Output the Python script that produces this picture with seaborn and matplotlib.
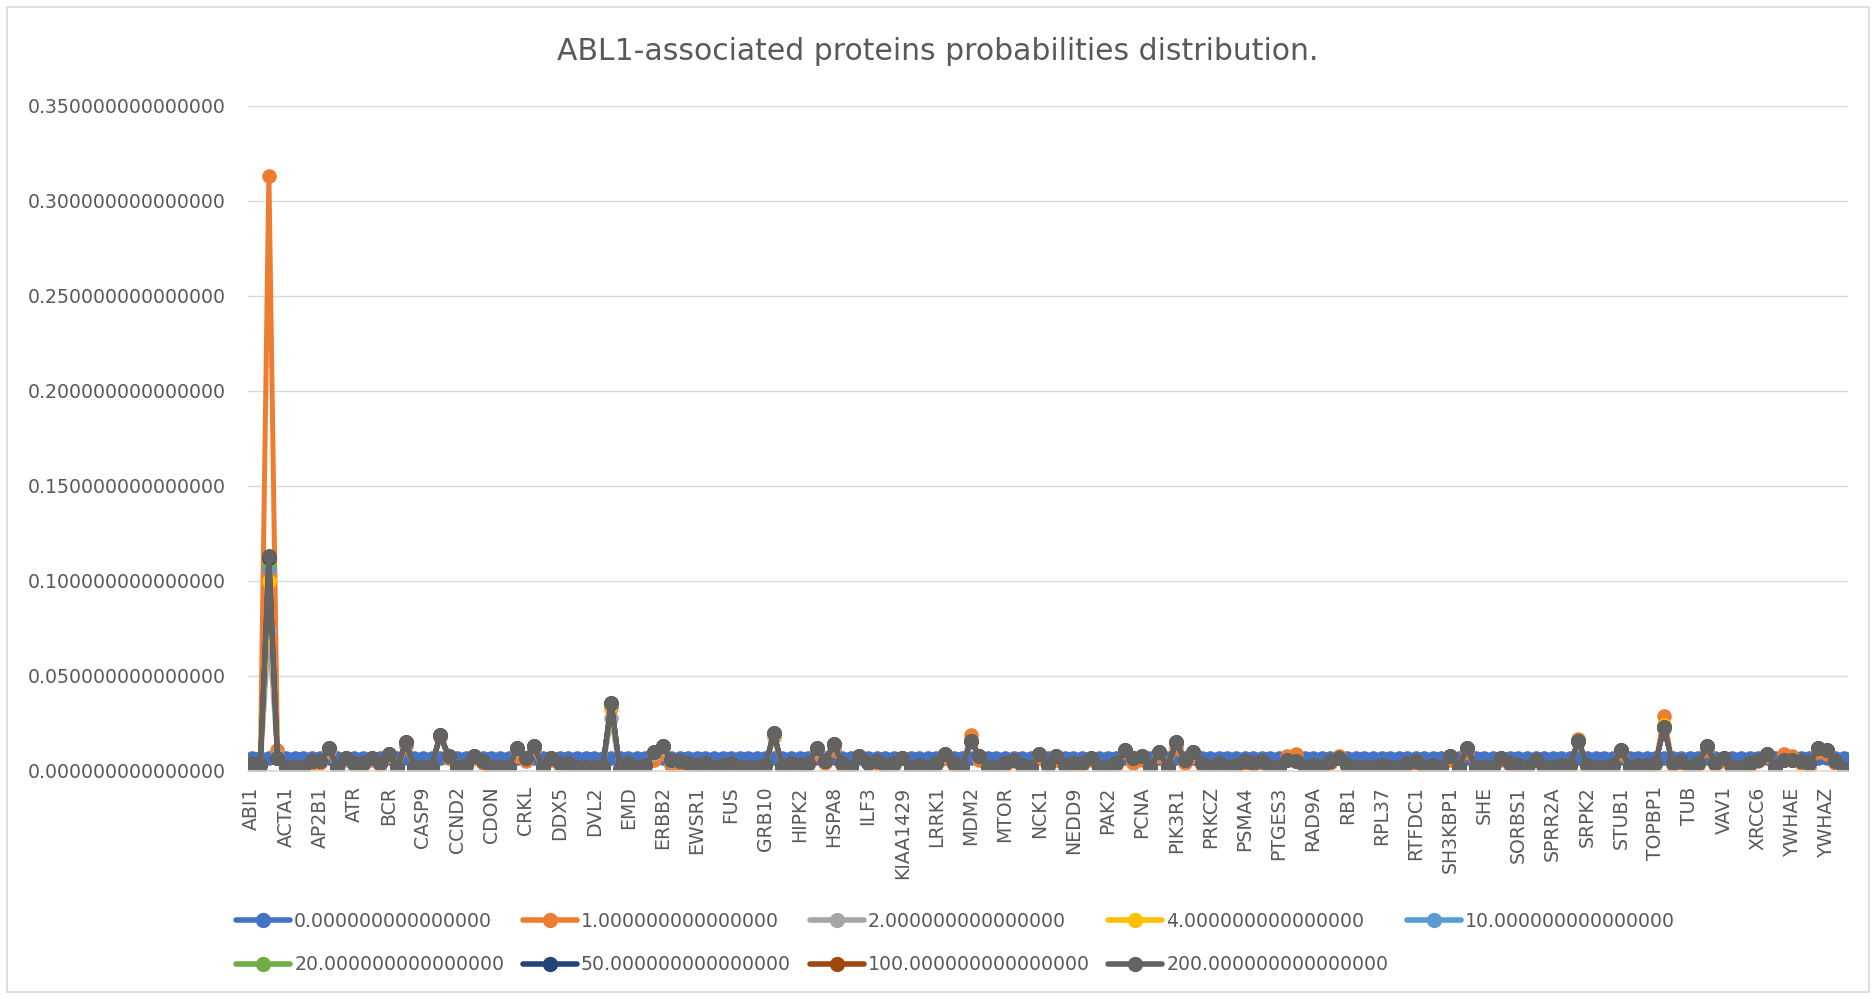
import pandas as pd
import seaborn as sns
import matplotlib.pyplot as plt
from matplotlib.lines import Line2D
from matplotlib.patches import Rectangle

# categorias (proteinas), solo se rotula una de cada cuatro
proteins = [
    'ABI1', 'ABI2', 'ABL1', 'ABL2', 'ACTA1', 'ACTB', 'ADAM15', 'AKT1',
    'AP2B1', 'APP', 'ATF2', 'ATM', 'ATR', 'AXL', 'BCAR1', 'BCL2L1',
    'BCR', 'BRCA1', 'CABLES1', 'CASP3', 'CASP9', 'CAV1', 'CBL', 'CCNB1',
    'CCND2', 'CD19', 'CDK5', 'CDKN1B', 'CDON', 'CHEK1', 'CREB1', 'CRK',
    'CRKL', 'CTNNB1', 'DAB1', 'DDB1', 'DDX5', 'DNMT1', 'DOK1', 'DVL1',
    'DVL2', 'E2F1', 'EGFR', 'ELMO1', 'EMD', 'ENAH', 'EP300', 'EPHB2',
    'ERBB2', 'ERBB3', 'ESR1', 'ETV6', 'EWSR1', 'EZR', 'FAS', 'FOXO3',
    'FUS', 'FYN', 'GAB1', 'GAB2', 'GRB10', 'GRB2', 'GSK3B', 'HCK',
    'HIPK2', 'HNRNPK', 'HSP90AA1', 'HSP90AB1', 'HSPA8', 'IGF1R', 'IKBKB', 'IL2RB',
    'ILF3', 'INPP5D', 'IRS1', 'JAK2', 'KIAA1429', 'KIT', 'LCK', 'LMO2',
    'LRRK1', 'MAP4K1', 'MAPK8', 'MCM7', 'MDM2', 'MDM4', 'MET', 'MST1R',
    'MTOR', 'MYC', 'MYOD1', 'NBN', 'NCK1', 'NCK2', 'NCKAP1', 'NEDD4',
    'NEDD9', 'NOTCH1', 'NTRK1', 'PAG1', 'PAK2', 'PARP1', 'PAXIP1', 'PBX1',
    'PCNA', 'PDGFRB', 'PIK3CA', 'PIK3CD', 'PIK3R1', 'PLCG1', 'PRDX1', 'PRKCD',
    'PRKCZ', 'PRKDC', 'PSMA1', 'PSMA3', 'PSMA4', 'PSMA7', 'PSTPIP1', 'PTEN',
    'PTGES3', 'PTK2', 'PTPN1', 'PXN', 'RAD9A', 'RAF1', 'RAPGEF1', 'RASA1',
    'RB1', 'RIN1', 'ROCK1', 'RPA1', 'RPL37', 'RPS6', 'RRM2', 'RSU1',
    'RTFDC1', 'RUNX1', 'SH2B1', 'SH2D1A', 'SH3KBP1', 'SH3RF1', 'SHB', 'SHC1',
    'SHE', 'SIRT1', 'SMAD3', 'SOCS1', 'SORBS1', 'SORBS2', 'SOS1', 'SPI1',
    'SPRR2A', 'SRC', 'SRF', 'SRPK1', 'SRPK2', 'STAT1', 'STAT3', 'STAT5A',
    'STUB1', 'SYK', 'TERT', 'TLN1', 'TOPBP1', 'TP53', 'TP73', 'TRIP6',
    'TUB', 'TUBA1A', 'UBC', 'UTRN', 'VAV1', 'VAV2', 'WASF2', 'WASL',
    'XRCC6', 'YAP1', 'YES1', 'YWHAB', 'YWHAE', 'YWHAG', 'YWHAH', 'YWHAQ',
    'YWHAZ', 'ZAP70', 'ZYX',
]

# parametro de cada serie (leyenda)
temps = [0, 1, 2, 4, 10, 20, 50, 100, 200]

p0 = [
    0.007, 0.007, 0.007, 0.007, 0.007, 0.007, 0.007, 0.007, 0.007, 0.007, 0.007, 0.007, 0.007, 0.007, 0.007, 0.007, 0.007,
    0.007, 0.007, 0.007, 0.007, 0.007, 0.007, 0.007, 0.007, 0.007, 0.007, 0.007, 0.007, 0.007, 0.007, 0.007, 0.007, 0.007,
    0.007, 0.007, 0.007, 0.007, 0.007, 0.007, 0.007, 0.007, 0.007, 0.007, 0.007, 0.007, 0.007, 0.007, 0.007, 0.007, 0.007,
    0.007, 0.007, 0.007, 0.007, 0.007, 0.007, 0.007, 0.007, 0.007, 0.007, 0.007, 0.007, 0.007, 0.007, 0.007, 0.007, 0.007,
    0.007, 0.007, 0.007, 0.007, 0.007, 0.007, 0.007, 0.007, 0.007, 0.007, 0.007, 0.007, 0.007, 0.007, 0.007, 0.007, 0.007,
    0.007, 0.007, 0.007, 0.007, 0.007, 0.007, 0.007, 0.007, 0.007, 0.007, 0.007, 0.007, 0.007, 0.007, 0.007, 0.007, 0.007,
    0.007, 0.007, 0.007, 0.007, 0.007, 0.007, 0.007, 0.007, 0.007, 0.007, 0.007, 0.007, 0.007, 0.007, 0.007, 0.007, 0.007,
    0.007, 0.007, 0.007, 0.007, 0.007, 0.007, 0.007, 0.007, 0.007, 0.007, 0.007, 0.007, 0.007, 0.007, 0.007, 0.007, 0.007,
    0.007, 0.007, 0.007, 0.007, 0.007, 0.007, 0.007, 0.007, 0.007, 0.007, 0.007, 0.007, 0.007, 0.007, 0.007, 0.007, 0.007,
    0.007, 0.007, 0.007, 0.007, 0.007, 0.007, 0.007, 0.007, 0.007, 0.007, 0.007, 0.007, 0.007, 0.007, 0.007, 0.007, 0.007,
    0.007, 0.007, 0.007, 0.007, 0.007, 0.007, 0.007, 0.007, 0.007, 0.007, 0.007, 0.007, 0.007, 0.007, 0.007, 0.007, 0.007,
]

p1 = [
    0.003, 0.002, 0.313, 0.011, 0.001, 0.001, 0.001, 0.004, 0.004, 0.010,
    0.001, 0.006, 0.003, 0.003, 0.006, 0.003, 0.008, 0.001, 0.013, 0.001,
    0.001, 0.001, 0.018, 0.007, 0.001, 0.002, 0.007, 0.004, 0.001, 0.001,
    0.001, 0.008, 0.005, 0.011, 0.001, 0.006, 0.003, 0.003, 0.001, 0.001,
    0.001, 0.001, 0.033, 0.0005, 0.003, 0.001, 0.002, 0.006, 0.009, 0.003,
    0.003, 0.003, 0.002, 0.003, 0.001, 0.002, 0.003, 0.001, 0.001, 0.001,
    0.002, 0.019, 0.001, 0.003, 0.002, 0.003, 0.009, 0.004, 0.011, 0.003,
    0.001, 0.008, 0.004, 0.004, 0.002, 0.003, 0.007, 0.001, 0.002, 0.001,
    0.003, 0.007, 0.003, 0.001, 0.019, 0.006, 0.001, 0.001, 0.003, 0.005,
    0.002, 0.001, 0.007, 0.002, 0.006, 0.002, 0.003, 0.003, 0.006, 0.001,
    0.001, 0.003, 0.010, 0.004, 0.006, 0.001, 0.008, 0.001, 0.012, 0.004,
    0.008, 0.003, 0.001, 0.003, 0.001, 0.002, 0.004, 0.003, 0.004, 0.001,
    0.001, 0.008, 0.009, 0.001, 0.002, 0.001, 0.004, 0.008, 0.002, 0.001,
    0.001, 0.001, 0.002, 0.001, 0.001, 0.003, 0.004, 0.001, 0.002, 0.001,
    0.006, 0.001, 0.010, 0.001, 0.001, 0.001, 0.006, 0.003, 0.002, 0.001,
    0.005, 0.001, 0.001, 0.002, 0.002, 0.017, 0.002, 0.001, 0.001, 0.002,
    0.009, 0.001, 0.002, 0.002, 0.003, 0.029, 0.003, 0.004, 0.001, 0.003,
    0.011, 0.003, 0.005, 0.001, 0.001, 0.003, 0.005, 0.008, 0.001, 0.009,
    0.008, 0.004, 0.002, 0.010, 0.009, 0.004, 0.001,
]

p2 = [
    0.004, 0.003, 0.074, 0.008, 0.002, 0.002, 0.002, 0.005, 0.005, 0.011,
    0.002, 0.006, 0.004, 0.004, 0.006, 0.004, 0.009, 0.002, 0.014, 0.002,
    0.002, 0.002, 0.018, 0.008, 0.002, 0.003, 0.008, 0.005, 0.002, 0.002,
    0.002, 0.011, 0.007, 0.012, 0.002, 0.007, 0.004, 0.004, 0.002, 0.002,
    0.002, 0.002, 0.028, 0.001, 0.004, 0.002, 0.003, 0.009, 0.012, 0.005,
    0.005, 0.004, 0.003, 0.004, 0.002, 0.003, 0.004, 0.002, 0.002, 0.002,
    0.003, 0.018, 0.002, 0.004, 0.003, 0.004, 0.011, 0.005, 0.013, 0.004,
    0.002, 0.008, 0.004, 0.005, 0.003, 0.004, 0.007, 0.002, 0.003, 0.002,
    0.004, 0.009, 0.004, 0.002, 0.015, 0.008, 0.002, 0.002, 0.004, 0.006,
    0.003, 0.002, 0.009, 0.003, 0.008, 0.003, 0.004, 0.004, 0.007, 0.002,
    0.002, 0.004, 0.011, 0.007, 0.008, 0.002, 0.010, 0.002, 0.014, 0.006,
    0.010, 0.004, 0.002, 0.004, 0.002, 0.003, 0.005, 0.004, 0.005, 0.002,
    0.002, 0.006, 0.005, 0.002, 0.003, 0.002, 0.005, 0.007, 0.003, 0.002,
    0.002, 0.002, 0.003, 0.002, 0.002, 0.004, 0.005, 0.002, 0.003, 0.002,
    0.008, 0.002, 0.012, 0.002, 0.002, 0.002, 0.007, 0.004, 0.003, 0.002,
    0.006, 0.002, 0.002, 0.003, 0.003, 0.015, 0.003, 0.002, 0.002, 0.003,
    0.011, 0.002, 0.003, 0.003, 0.004, 0.022, 0.004, 0.005, 0.002, 0.004,
    0.013, 0.004, 0.007, 0.002, 0.002, 0.004, 0.006, 0.009, 0.002, 0.006,
    0.006, 0.005, 0.004, 0.012, 0.011, 0.005, 0.001,
]

p4 = [
    0.004, 0.003, 0.100, 0.007, 0.002, 0.002, 0.002, 0.005, 0.005, 0.012,
    0.002, 0.0066, 0.004, 0.004, 0.0066, 0.004, 0.009, 0.002, 0.015, 0.002,
    0.002, 0.002, 0.019, 0.008, 0.002, 0.003, 0.008, 0.005, 0.002, 0.002,
    0.002, 0.012, 0.007, 0.013, 0.002, 0.007, 0.004, 0.004, 0.002, 0.002,
    0.002, 0.002, 0.034, 0.001, 0.004, 0.002, 0.003, 0.010, 0.013, 0.006,
    0.005, 0.004, 0.003, 0.004, 0.002, 0.003, 0.004, 0.002, 0.002, 0.002,
    0.003, 0.019, 0.002, 0.004, 0.003, 0.004, 0.012, 0.005, 0.014, 0.004,
    0.002, 0.008, 0.004, 0.005, 0.003, 0.004, 0.007, 0.002, 0.003, 0.002,
    0.004, 0.009, 0.004, 0.002, 0.016, 0.008, 0.002, 0.002, 0.004, 0.006,
    0.003, 0.002, 0.009, 0.003, 0.008, 0.003, 0.004, 0.004, 0.007, 0.002,
    0.002, 0.004, 0.011, 0.007, 0.008, 0.002, 0.010, 0.002, 0.015, 0.006,
    0.010, 0.004, 0.002, 0.004, 0.002, 0.003, 0.005, 0.004, 0.005, 0.002,
    0.002, 0.006, 0.005, 0.002, 0.003, 0.002, 0.005, 0.007, 0.003, 0.002,
    0.002, 0.002, 0.003, 0.002, 0.002, 0.004, 0.005, 0.002, 0.003, 0.002,
    0.008, 0.002, 0.012, 0.002, 0.002, 0.002, 0.007, 0.004, 0.003, 0.002,
    0.006, 0.002, 0.002, 0.003, 0.003, 0.016, 0.003, 0.002, 0.002, 0.003,
    0.011, 0.002, 0.003, 0.003, 0.004, 0.024, 0.004, 0.005, 0.002, 0.004,
    0.013, 0.004, 0.007, 0.002, 0.002, 0.004, 0.006, 0.009, 0.002, 0.006,
    0.006, 0.005, 0.004, 0.012, 0.011, 0.005, 0.001,
]

p10 = [
    0.004, 0.003, 0.107, 0.0066, 0.002, 0.002, 0.002, 0.005, 0.005, 0.012,
    0.002, 0.0066, 0.004, 0.004, 0.0066, 0.004, 0.009, 0.002, 0.015, 0.002,
    0.002, 0.002, 0.019, 0.008, 0.002, 0.003, 0.008, 0.005, 0.002, 0.002,
    0.002, 0.012, 0.007, 0.013, 0.002, 0.007, 0.004, 0.004, 0.002, 0.002,
    0.002, 0.002, 0.035, 0.001, 0.004, 0.002, 0.003, 0.010, 0.013, 0.006,
    0.005, 0.004, 0.003, 0.004, 0.002, 0.003, 0.004, 0.002, 0.002, 0.002,
    0.003, 0.020, 0.002, 0.004, 0.003, 0.004, 0.012, 0.005, 0.014, 0.004,
    0.002, 0.008, 0.004, 0.005, 0.003, 0.004, 0.007, 0.002, 0.003, 0.002,
    0.004, 0.009, 0.004, 0.002, 0.016, 0.008, 0.002, 0.002, 0.004, 0.006,
    0.003, 0.002, 0.009, 0.003, 0.008, 0.003, 0.004, 0.004, 0.007, 0.002,
    0.002, 0.004, 0.011, 0.007, 0.008, 0.002, 0.010, 0.002, 0.015, 0.006,
    0.010, 0.004, 0.002, 0.004, 0.002, 0.003, 0.005, 0.004, 0.005, 0.002,
    0.002, 0.006, 0.005, 0.002, 0.003, 0.002, 0.005, 0.007, 0.003, 0.002,
    0.002, 0.002, 0.003, 0.002, 0.002, 0.004, 0.005, 0.002, 0.003, 0.002,
    0.008, 0.002, 0.012, 0.002, 0.002, 0.002, 0.007, 0.004, 0.003, 0.002,
    0.006, 0.002, 0.002, 0.003, 0.003, 0.016, 0.003, 0.002, 0.002, 0.003,
    0.011, 0.002, 0.003, 0.003, 0.004, 0.023, 0.004, 0.005, 0.002, 0.004,
    0.013, 0.004, 0.007, 0.002, 0.002, 0.004, 0.006, 0.009, 0.002, 0.006,
    0.006, 0.005, 0.004, 0.012, 0.011, 0.005, 0.001,
]

p20 = [
    0.004, 0.003, 0.110, 0.0066, 0.002, 0.002, 0.002, 0.005, 0.005, 0.012,
    0.002, 0.0066, 0.004, 0.004, 0.0066, 0.004, 0.009, 0.002, 0.015, 0.002,
    0.002, 0.002, 0.019, 0.008, 0.002, 0.003, 0.008, 0.005, 0.002, 0.002,
    0.002, 0.012, 0.007, 0.013, 0.002, 0.007, 0.004, 0.004, 0.002, 0.002,
    0.002, 0.002, 0.036, 0.001, 0.004, 0.002, 0.003, 0.010, 0.013, 0.006,
    0.005, 0.004, 0.003, 0.004, 0.002, 0.003, 0.004, 0.002, 0.002, 0.002,
    0.003, 0.020, 0.002, 0.004, 0.003, 0.004, 0.012, 0.005, 0.014, 0.004,
    0.002, 0.008, 0.004, 0.005, 0.003, 0.004, 0.007, 0.002, 0.003, 0.002,
    0.004, 0.009, 0.004, 0.002, 0.016, 0.008, 0.002, 0.002, 0.004, 0.006,
    0.003, 0.002, 0.009, 0.003, 0.008, 0.003, 0.004, 0.004, 0.007, 0.002,
    0.002, 0.004, 0.011, 0.007, 0.008, 0.002, 0.010, 0.002, 0.015, 0.006,
    0.010, 0.004, 0.002, 0.004, 0.002, 0.003, 0.005, 0.004, 0.005, 0.002,
    0.002, 0.006, 0.005, 0.002, 0.003, 0.002, 0.005, 0.007, 0.003, 0.002,
    0.002, 0.002, 0.003, 0.002, 0.002, 0.004, 0.005, 0.002, 0.003, 0.002,
    0.008, 0.002, 0.012, 0.002, 0.002, 0.002, 0.007, 0.004, 0.003, 0.002,
    0.006, 0.002, 0.002, 0.003, 0.003, 0.016, 0.003, 0.002, 0.002, 0.003,
    0.011, 0.002, 0.003, 0.003, 0.004, 0.023, 0.004, 0.005, 0.002, 0.004,
    0.013, 0.004, 0.007, 0.002, 0.002, 0.004, 0.006, 0.009, 0.002, 0.006,
    0.006, 0.005, 0.004, 0.012, 0.011, 0.005, 0.001,
]

p50 = [
    0.004, 0.003, 0.112, 0.0066, 0.002, 0.002, 0.002, 0.005, 0.005, 0.012,
    0.002, 0.0066, 0.004, 0.004, 0.0066, 0.004, 0.009, 0.002, 0.015, 0.002,
    0.002, 0.002, 0.019, 0.008, 0.002, 0.003, 0.008, 0.005, 0.002, 0.002,
    0.002, 0.012, 0.007, 0.013, 0.002, 0.007, 0.004, 0.004, 0.002, 0.002,
    0.002, 0.002, 0.036, 0.001, 0.004, 0.002, 0.003, 0.010, 0.013, 0.006,
    0.005, 0.004, 0.003, 0.004, 0.002, 0.003, 0.004, 0.002, 0.002, 0.002,
    0.003, 0.020, 0.002, 0.004, 0.003, 0.004, 0.012, 0.005, 0.014, 0.004,
    0.002, 0.008, 0.004, 0.005, 0.003, 0.004, 0.007, 0.002, 0.003, 0.002,
    0.004, 0.009, 0.004, 0.002, 0.016, 0.008, 0.002, 0.002, 0.004, 0.006,
    0.003, 0.002, 0.009, 0.003, 0.008, 0.003, 0.004, 0.004, 0.007, 0.002,
    0.002, 0.004, 0.011, 0.007, 0.008, 0.002, 0.010, 0.002, 0.015, 0.006,
    0.010, 0.004, 0.002, 0.004, 0.002, 0.003, 0.005, 0.004, 0.005, 0.002,
    0.002, 0.006, 0.005, 0.002, 0.003, 0.002, 0.005, 0.007, 0.003, 0.002,
    0.002, 0.002, 0.003, 0.002, 0.002, 0.004, 0.005, 0.002, 0.003, 0.002,
    0.008, 0.002, 0.012, 0.002, 0.002, 0.002, 0.007, 0.004, 0.003, 0.002,
    0.006, 0.002, 0.002, 0.003, 0.003, 0.016, 0.003, 0.002, 0.002, 0.003,
    0.011, 0.002, 0.003, 0.003, 0.004, 0.023, 0.004, 0.005, 0.002, 0.004,
    0.013, 0.004, 0.007, 0.002, 0.002, 0.004, 0.006, 0.009, 0.002, 0.006,
    0.006, 0.005, 0.004, 0.012, 0.011, 0.005, 0.001,
]

p100 = [
    0.004, 0.003, 0.113, 0.0066, 0.002, 0.002, 0.002, 0.005, 0.005, 0.012,
    0.002, 0.0066, 0.004, 0.004, 0.0066, 0.004, 0.009, 0.002, 0.015, 0.002,
    0.002, 0.002, 0.019, 0.008, 0.002, 0.003, 0.008, 0.005, 0.002, 0.002,
    0.002, 0.012, 0.007, 0.013, 0.002, 0.007, 0.004, 0.004, 0.002, 0.002,
    0.002, 0.002, 0.036, 0.001, 0.004, 0.002, 0.003, 0.010, 0.013, 0.006,
    0.005, 0.004, 0.003, 0.004, 0.002, 0.003, 0.004, 0.002, 0.002, 0.002,
    0.003, 0.020, 0.002, 0.004, 0.003, 0.004, 0.012, 0.005, 0.014, 0.004,
    0.002, 0.008, 0.004, 0.005, 0.003, 0.004, 0.007, 0.002, 0.003, 0.002,
    0.004, 0.009, 0.004, 0.002, 0.016, 0.008, 0.002, 0.002, 0.004, 0.006,
    0.003, 0.002, 0.009, 0.003, 0.008, 0.003, 0.004, 0.004, 0.007, 0.002,
    0.002, 0.004, 0.011, 0.007, 0.008, 0.002, 0.010, 0.002, 0.015, 0.006,
    0.010, 0.004, 0.002, 0.004, 0.002, 0.003, 0.005, 0.004, 0.005, 0.002,
    0.002, 0.006, 0.005, 0.002, 0.003, 0.002, 0.005, 0.007, 0.003, 0.002,
    0.002, 0.002, 0.003, 0.002, 0.002, 0.004, 0.005, 0.002, 0.003, 0.002,
    0.008, 0.002, 0.012, 0.002, 0.002, 0.002, 0.007, 0.004, 0.003, 0.002,
    0.006, 0.002, 0.002, 0.003, 0.003, 0.016, 0.003, 0.002, 0.002, 0.003,
    0.011, 0.002, 0.003, 0.003, 0.004, 0.023, 0.004, 0.005, 0.002, 0.004,
    0.013, 0.004, 0.007, 0.002, 0.002, 0.004, 0.006, 0.009, 0.002, 0.006,
    0.006, 0.005, 0.004, 0.012, 0.011, 0.005, 0.001,
]

p200 = [
    0.004, 0.003, 0.113, 0.0066, 0.002, 0.002, 0.002, 0.005, 0.005, 0.012,
    0.002, 0.0066, 0.004, 0.004, 0.0066, 0.004, 0.009, 0.002, 0.015, 0.002,
    0.002, 0.002, 0.019, 0.008, 0.002, 0.003, 0.008, 0.005, 0.002, 0.002,
    0.002, 0.012, 0.007, 0.013, 0.002, 0.007, 0.004, 0.004, 0.002, 0.002,
    0.002, 0.002, 0.036, 0.001, 0.004, 0.002, 0.003, 0.010, 0.013, 0.006,
    0.005, 0.004, 0.003, 0.004, 0.002, 0.003, 0.004, 0.002, 0.002, 0.002,
    0.003, 0.020, 0.002, 0.004, 0.003, 0.004, 0.012, 0.005, 0.014, 0.004,
    0.002, 0.008, 0.004, 0.005, 0.003, 0.004, 0.007, 0.002, 0.003, 0.002,
    0.004, 0.009, 0.004, 0.002, 0.016, 0.008, 0.002, 0.002, 0.004, 0.006,
    0.003, 0.002, 0.009, 0.003, 0.008, 0.003, 0.004, 0.004, 0.007, 0.002,
    0.002, 0.004, 0.011, 0.007, 0.008, 0.002, 0.010, 0.002, 0.015, 0.006,
    0.010, 0.004, 0.002, 0.004, 0.002, 0.003, 0.005, 0.004, 0.005, 0.002,
    0.002, 0.006, 0.005, 0.002, 0.003, 0.002, 0.005, 0.007, 0.003, 0.002,
    0.002, 0.002, 0.003, 0.002, 0.002, 0.004, 0.005, 0.002, 0.003, 0.002,
    0.008, 0.002, 0.012, 0.002, 0.002, 0.002, 0.007, 0.004, 0.003, 0.002,
    0.006, 0.002, 0.002, 0.003, 0.003, 0.016, 0.003, 0.002, 0.002, 0.003,
    0.011, 0.002, 0.003, 0.003, 0.004, 0.023, 0.004, 0.005, 0.002, 0.004,
    0.013, 0.004, 0.007, 0.002, 0.002, 0.004, 0.006, 0.009, 0.002, 0.006,
    0.006, 0.005, 0.004, 0.012, 0.011, 0.005, 0.001,
]

colors = ['#4472C4', '#ED7D31', '#A5A5A5', '#FFC000', '#5B9BD5',
          '#70AD47', '#264478', '#9E480E', '#636363']

series = [p0, p1, p2, p4, p10, p20, p50, p100, p200]
labels = [f'{t:.15f}' for t in temps]

# DataFrame en formato largo
rows = []
for lab, vals in zip(labels, series):
    for i, v in enumerate(vals):
        rows.append({'pos': i, 'protein': proteins[i], 'prob': v, 'series': lab})
df = pd.DataFrame(rows)

sns.set_style('white')
plt.rcParams['font.family'] = ['DejaVu Sans']
text_col = '#595959'
fs = 13.6

fig = plt.figure(figsize=(18.76, 9.99), dpi=100)
W, H = 1876, 999
ax = fig.add_axes([247.5 / W, 1 - 771 / H, (1848 - 247.5) / W, (771 - 105.5) / H])

sns.lineplot(data=df, x='pos', y='prob', hue='series', hue_order=labels,
             palette=colors, marker='o', markersize=10.5, markeredgewidth=0,
             linewidth=3.6, sort=False, legend=False, errorbar=None, ax=ax)

ax.set_xlim(-0.5, len(proteins) - 0.5)
ax.set_ylim(0, 0.35)
ax.set_yticks([0, 0.05, 0.10, 0.15, 0.20, 0.25, 0.30, 0.35])
ax.set_yticklabels([f'{v:.15f}' for v in ax.get_yticks()], fontsize=fs, color=text_col)
ax.set_xticks(range(0, len(proteins), 4))
ax.set_xticklabels(proteins[::4], rotation=90, fontsize=fs, color=text_col)
ax.tick_params(axis='y', length=0, pad=16)
ax.tick_params(axis='x', length=0, pad=11)
ax.set_xlabel('')
ax.set_ylabel('')

ax.grid(axis='y', color='#D9D9D9', linewidth=1.0)
ax.set_axisbelow(True)
for side in ['left', 'right', 'top']:
    ax.spines[side].set_visible(False)
ax.spines['bottom'].set_color('#D9D9D9')
ax.spines['bottom'].set_linewidth(1.2)

fig.text(0.5, 1 - 51 / H, 'ABL1-associated proteins probabilities distribution.',
         ha='center', va='center', fontsize=21.5, color=text_col)

# leyenda: llenado por filas como en Excel
order = [0, 5, 1, 6, 2, 7, 3, 8, 4]
handles = [Line2D([0], [0], color=colors[k], linewidth=4, marker='o',
                  markersize=11, markeredgewidth=0) for k in order]
fig.legend(handles, [labels[k] for k in order], ncol=5, frameon=False,
           loc='center left', bbox_to_anchor=((227 - 7.6) / W, 1 - 943 / H),
           fontsize=fs, labelcolor=text_col, handlelength=2.86,
           handletextpad=0.2, columnspacing=1.0, labelspacing=1.3)

# borde del area del grafico
fig.patches.append(Rectangle((7 / W, 1 - 992 / H), (1869 - 7) / W, (992 - 7) / H,
                             transform=fig.transFigure, fill=False,
                             edgecolor='#D9D9D9', linewidth=1.2))

fig.savefig('out.png', dpi=100)
